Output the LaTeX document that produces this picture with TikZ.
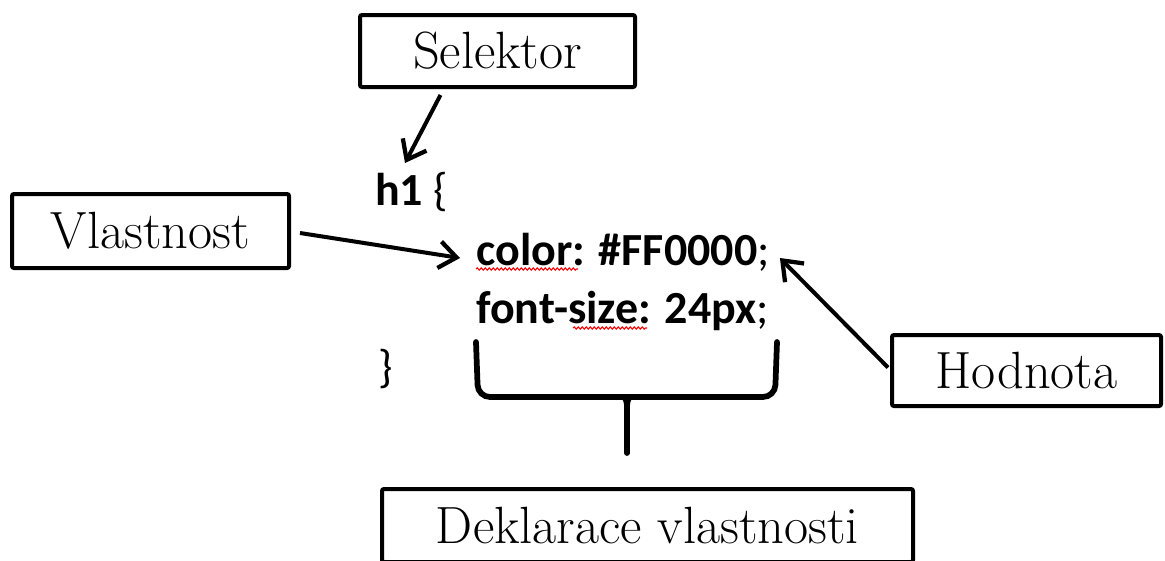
\documentclass[tikz,border=0pt]{standalone}
\usepackage{fontspec}
\newfontfamily\codefont{Carlito}
\usetikzlibrary{arrows.meta,calc,decorations.pathmorphing}

\begin{document}
\begin{tikzpicture}[x=0.75pt,y=-0.75pt,
  labelbox/.style={draw, line width=3pt, rounded corners=1.5pt, inner sep=0pt,
    font=\fontsize{39.3}{44}\selectfont},
  code/.style={inner sep=0pt, anchor=base west, font=\codefont\fontsize{34.5}{40}\selectfont},
  pointer/.style={line width=3pt, -{Straight Barb[length=13pt,width=20pt,line width=3.2pt]}},
  spell/.style={red, line width=0.8pt, decorate,
    decoration={snake, segment length=3pt, amplitude=0.8pt}},
  bracket/.style={line width=4.3pt, line cap=round, rounded corners=9pt}
]
\useasboundingbox (0,0) rectangle (1165,561);
\clip (0,0) rectangle (1165,561);

% labelled boxes
\node[labelbox, minimum width=206.25pt, minimum height=54pt] (sel) at (497.5,51) {Selektor};
\node[labelbox, minimum width=207.75pt, minimum height=55.5pt] (vl) at (150.5,231) {Vlastnost};
\node[labelbox, minimum width=201.75pt, minimum height=53.25pt] (hod) at (1026.5,370.5) {Hodnota};
\node[labelbox, minimum width=398.25pt, minimum height=54.75pt] (dek) at (647.5,525.5) {Deklarace vlastnosti};

% the CSS rule
\node[code] (h1) at (375,205) {\textbf{h1} \{};
\node[code] (prop) at (476,265) {\textbf{color: \#FF0000};};
\node[code] (size) at (476,323) {\textbf{font-size: 24px};};
\node[code] (close) at (378,382) {\}};

% spell-check underlines
\draw[spell] ($(prop.base west)+(0,4)$) -- ++(102,0);
\draw[spell] ($(size.base west)+(97,5)$) -- ++(74,0);

% brace under the declarations
\coordinate (bl) at (476,342);
\coordinate (br) at (777,342);
\coordinate (bm) at (627,397);
\coordinate (bt) at (627,453);
\draw[bracket] (bl) -- (478,397) -- (775,397) -- (br);
\fill (613,397) .. controls (624,398) .. (624.5,414) -- (629.5,414) .. controls (630,398) .. (641,397) -- cycle;
\draw[line width=4.3pt, line cap=round] ($(bm)+(0,10)$) -- (bt);

% pointers
\draw[pointer] ($(sel.south)+(-57,6)$) -- ($(h1.base west)+(30,-42)$);
\draw[pointer] ($(vl.east)+(9,2)$) -- ($(prop.base west)+(-16,-7)$);
\draw[pointer] ($(hod.west)+(-2,-3)$) -- ($(prop.base east)+(10,-7)$);
\end{tikzpicture}
\end{document}
